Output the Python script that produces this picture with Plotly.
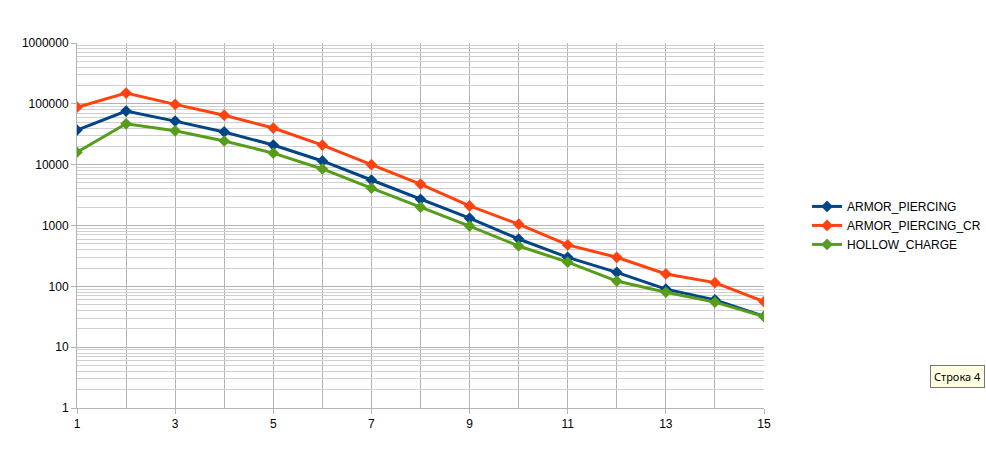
import plotly.graph_objects as go

x_vals = list(range(1, 16))
armor_piercing = [37000, 76000, 52000, 34500, 21000, 11500, 5600, 2700, 1320, 600, 300, 170, 90, 60, 32]
armor_piercing_cr = [88000, 150000, 98000, 65000, 40000, 21000, 10000, 4800, 2100, 1050, 480, 300, 160, 115, 56]
hollow_charge = [16000, 47000, 36000, 24500, 15500, 8500, 4100, 2000, 980, 460, 250, 122, 80, 55, 32]
series_names = ["ARMOR_PIERCING", "ARMOR_PIERCING_CR", "HOLLOW_CHARGE"]
series_colors = ["#004586", "#ff420e", "#579d1c"]
y_tickvals = [1, 10, 100, 1000, 10000, 100000, 1000000]
y_ticktext = ["1", "10", "100", "1000", "10000", "100000", "1000000"]
x_tickvals = [1, 3, 5, 7, 9, 11, 13, 15]

fig = go.Figure()
for name, vals, col in zip(series_names, [armor_piercing, armor_piercing_cr, hollow_charge], series_colors):
    fig.add_trace(go.Scatter(
        x=x_vals, y=vals, name=name, mode="lines+markers",
        line=dict(color=col, width=3),
        marker=dict(symbol="diamond", size=9, color=col),
    ))

grid = "#b3b3b3"
fig.update_layout(
    width=986, height=467, autosize=False,
    margin=dict(l=77, r=222, t=43, b=59, autoexpand=False),
    paper_bgcolor="white", plot_bgcolor="white",
    font=dict(family="Liberation Sans, Arial, sans-serif", size=12, color="black"),
    showlegend=True,
    legend=dict(x=0.8185, y=0.589, xref="container", yref="container",
                xanchor="left", yanchor="top",
                font=dict(size=12), bgcolor="rgba(0,0,0,0)",
                tracegroupgap=0, itemwidth=30),
    xaxis=dict(range=[1, 15], tickvals=x_tickvals, showgrid=False, automargin=False,
               zeroline=False, showline=True, linecolor=grid, linewidth=1,
               ticks="outside", ticklen=5, tickcolor=grid,
               minor=dict(dtick=1, showgrid=True, gridcolor=grid, gridwidth=1, ticks="")),
    yaxis=dict(type="log", range=[0, 6], tickvals=y_tickvals, ticktext=y_ticktext,
               showgrid=True, gridcolor=grid, gridwidth=1, automargin=False,
               zeroline=False, showline=True, linecolor=grid, linewidth=1,
               ticks="outside", ticklen=5, tickcolor=grid,
               minor=dict(dtick="D1", showgrid=True, gridcolor="#d0d0d0", gridwidth=1, ticks="")),
    annotations=[dict(
        x=1.2817, y=0.085, xref="paper", yref="paper", text="Строка 4",
        xanchor="center", yanchor="middle",
        showarrow=False, bgcolor="#ffffe1", bordercolor="#767676", borderwidth=1,
        borderpad=3, font=dict(size=11, family="Noto Sans, sans-serif"),
    )],
)

fig.write_html(
    "out.html",
    config={"displayModeBar": False, "responsive": False},
    default_width="986px", default_height="467px",
    post_script="document.body.style.margin='0';document.body.style.overflow='hidden';",
)
